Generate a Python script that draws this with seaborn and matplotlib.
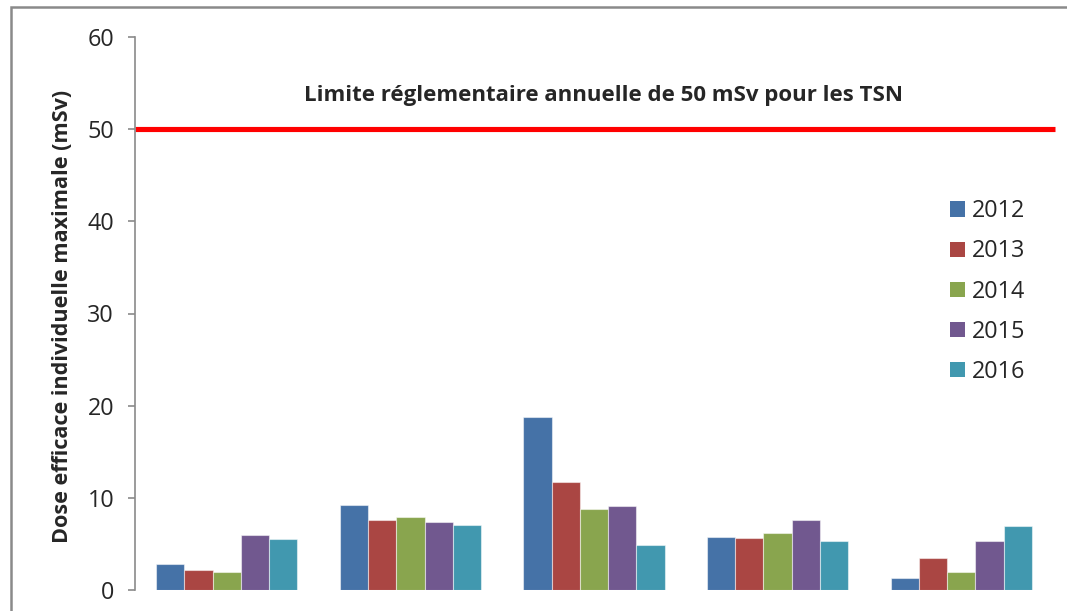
import matplotlib
matplotlib.use("Agg")
import matplotlib.pyplot as plt
import seaborn as sns
import pandas as pd
from matplotlib.patches import Rectangle, Patch

# Data
categories = ["Catégorie 1", "Catégorie 2", "Catégorie 3", "Catégorie 4", "Catégorie 5"]
years = ["2012", "2013", "2014", "2015", "2016"]
v2012 = [2.77, 9.25, 18.77, 5.78, 1.25]
v2013 = [2.19, 7.55, 11.67, 5.67, 3.42]
v2014 = [2.00, 7.90, 8.82, 6.21, 2.00]
v2015 = [5.95, 7.36, 9.10, 7.55, 5.27]
v2016 = [5.48, 7.00, 4.90, 5.34, 6.93]
limit_value = 50
limit_label = "Limite réglementaire annuelle de 50 mSv pour les TSN"
ylabel = "Dose efficace individuelle maximale (mSv)"
yticks = [0, 10, 20, 30, 40, 50, 60]

colors = ["#4572A7", "#AA4643", "#89A54E", "#71588F", "#4198AF"]

rows = []
for y, vals in zip(years, [v2012, v2013, v2014, v2015, v2016]):
    for c, v in zip(categories, vals):
        rows.append({"cat": c, "year": y, "dose": v})
df = pd.DataFrame(rows)

sns.set_style("white")
plt.rcParams["font.family"] = ["Open Sans", "DejaVu Sans"]

W, H = 1067, 611
fig = plt.figure(figsize=(W / 100, H / 100), dpi=100)
ax = fig.add_axes([135 / W, (H - 590) / H, (1053 - 135) / W, (590 - 37) / H])

sns.barplot(data=df, x="cat", y="dose", hue="year", order=categories,
            hue_order=years, palette=colors, width=0.77, gap=0,
            saturation=1, edgecolor=(1, 1, 1, 0.5), linewidth=0.8,
            ax=ax, legend=False)

ax.set_ylim(0, 60)
ax.set_xlim(-0.5, len(categories) - 0.5)
ax.set_yticks(yticks)
ax.set_yticklabels([str(t) for t in yticks], fontsize=16.8)
ax.tick_params(axis="y", direction="out", length=5, width=1.2, color="#8a8a8a",
               pad=10, left=True)
ax.set_xticks([])
ax.set_xlabel("")
ax.set_ylabel(ylabel, fontsize=15.6, fontweight="bold")
ax.yaxis.set_label_coords((73 - 135) / (1053 - 135), (590 - 316) / (590 - 37))
for s in ["top", "right", "bottom"]:
    ax.spines[s].set_visible(False)
ax.spines["left"].set_color("#8a8a8a")
ax.spines["left"].set_linewidth(1.2)

# Limit line
ax.axhline(limit_value, xmin=0, xmax=(1055 - 135) / (1053 - 135), color="#FF0000",
           linewidth=3.7, clip_on=False, solid_capstyle="butt")
ax.text((603.5 - 135) / (1053 - 135), (590 - 101) / ((590 - 37) / 60),
        limit_label, transform=ax.get_yaxis_transform(), ha="center",
        va="baseline", fontsize=16, fontweight="bold")

# Legend
handles = [Patch(facecolor=c, edgecolor="none") for c in colors]
leg = fig.legend(handles, years, loc="upper left",
                 bbox_to_anchor=(940.7 / W, 1 - 190 / H), frameon=False,
                 fontsize=16.8, handlelength=0.64, handleheight=0.64,
                 handletextpad=0.3, labelspacing=0.69, borderaxespad=0)

# Outer frame
fig.patches.append(Rectangle((11 / W, -0.1), 1.2, 1 - 6.5 / H + 0.1,
                             transform=fig.transFigure, fill=False,
                             edgecolor="#8a8a8a", linewidth=1.8))

fig.savefig("out.png", dpi=100)
